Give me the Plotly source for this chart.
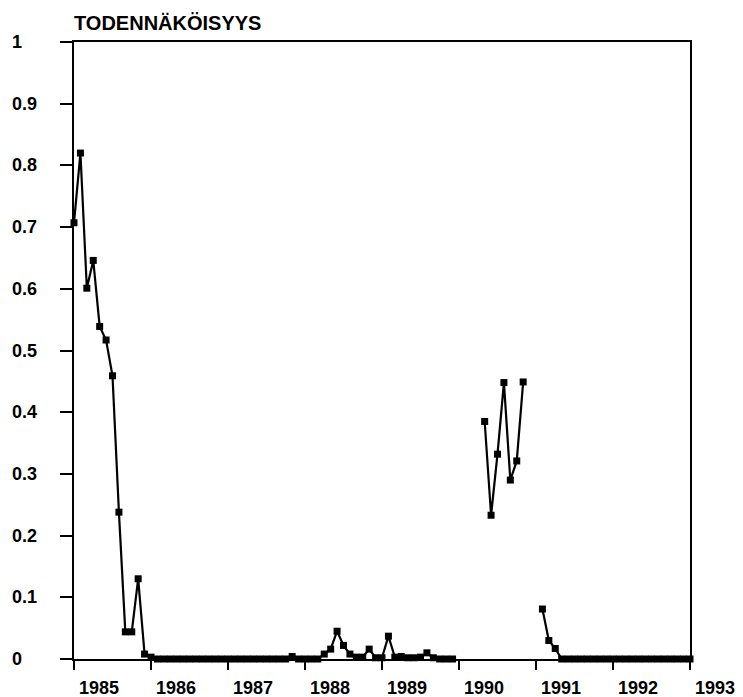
import plotly.graph_objects as go

# Monthly probabilities (None = no observation)
v1985 = [0.707, 0.820, 0.601, 0.646, 0.539, 0.517, 0.459, 0.238, 0.044, 0.044, 0.130, 0.008]
v1986 = [0.003, 0, 0, 0, 0, 0, 0, 0, 0, 0, 0, 0]
v1987 = [0, 0, 0, 0, 0, 0, 0, 0, 0, 0, 0.004, 0]
v1988 = [0, 0, 0, 0.008, 0.016, 0.045, 0.022, 0.008, 0.003, 0.003, 0.016, 0.002]
v1989 = [0.002, 0.037, 0.003, 0.004, 0.002, 0.002, 0.003, 0.010, 0.002, 0, 0, 0]
v1990 = [None, None, None, None, 0.385, 0.233, 0.332, 0.448, 0.290, 0.321, 0.449, None]
v1991 = [None, 0.081, 0.030, 0.017, 0, 0, 0, 0, 0, 0, 0, 0]
v1992 = [0, 0, 0, 0, 0, 0, 0, 0, 0, 0, 0, 0]
v1993 = [0]

years = [1985, 1986, 1987, 1988, 1989, 1990, 1991, 1992, 1993]
series = [v1985, v1986, v1987, v1988, v1989, v1990, v1991, v1992, v1993]

x_tick_vals = [1985, 1986, 1987, 1988, 1989, 1990, 1991, 1992, 1993]
x_tick_text = ["1985", "1986", "1987", "1988", "1989", "1990", "1991", "1992", "1993"]
y_tick_vals = [0, 0.1, 0.2, 0.3, 0.4, 0.5, 0.6, 0.7, 0.8, 0.9, 1]
y_tick_text = ["0", "0.1", "0.2", "0.3", "0.4", "0.5", "0.6", "0.7", "0.8", "0.9", "1"]
title_text = "TODENNÄKÖISYYS"

xs, ys = [], []
for yr, vals in zip(years, series):
    for m, v in enumerate(vals):
        xs.append(yr + m / 12)
        ys.append(v)

FONT = "Liberation Sans, Arial, Helvetica, sans-serif"

fig = go.Figure()
fig.add_trace(go.Scatter(
    x=xs, y=ys, mode="lines+markers",
    line=dict(color="black", width=2.2),
    marker=dict(symbol="square", size=7, color="black"),
    connectgaps=False, cliponaxis=False, showlegend=False,
))

# page has an 8px body margin; figure sized so it ends at the window edge
W, H = 735, 689
L, T = 66, 34
PW, PH = 616, 617
R, B = W - L - PW, H - T - PH

fig.update_layout(
    template="none",
    width=W, height=H,
    margin=dict(l=L, r=R, t=T, b=B, autoexpand=False),
    paper_bgcolor="white", plot_bgcolor="white",
    font=dict(family=FONT, color="black", size=18, weight="bold"),
    title=dict(text=title_text, x=0, xref="paper", xanchor="left",
               y=1 - 15 / H, yanchor="middle",
               font=dict(family=FONT, size=20, weight="bold", color="black")),
)
fig.update_xaxes(
    range=[1985, 1993], tickvals=x_tick_vals, ticktext=x_tick_text,
    automargin=False,
    showgrid=False, zeroline=False,
    showline=True, linecolor="black", linewidth=2, mirror=True,
    ticks="outside", ticklen=9, tickwidth=2, tickcolor="black",
    ticklabelshift=25, ticklabelstandoff=2,
    tickfont=dict(family=FONT, size=18, weight="bold", color="black"),
)
fig.update_yaxes(
    range=[0, 1], tickvals=y_tick_vals, ticktext=y_tick_text,
    automargin=False,
    showticklabels=False,
    showgrid=False, zeroline=False,
    showline=True, linecolor="black", linewidth=2, mirror=True,
    ticks="outside", ticklen=12, tickwidth=2, tickcolor="black",
)
for v, t in zip(y_tick_vals, y_tick_text):
    fig.add_annotation(
        x=(2 - L) / PW, xref="paper", xanchor="left",
        y=v, yref="y", yanchor="middle",
        text=t, showarrow=False,
        font=dict(family=FONT, size=18, weight="bold", color="black"),
    )

fig.write_html("out.html")
